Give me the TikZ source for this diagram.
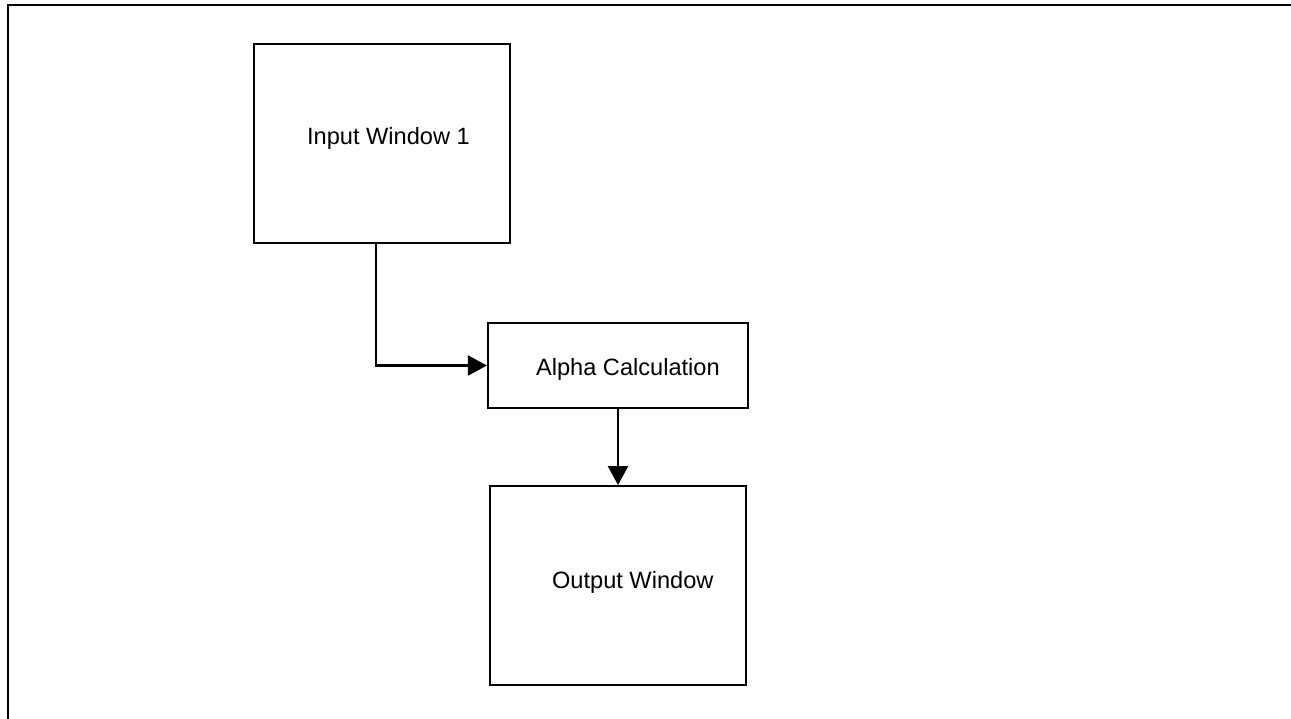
\documentclass[tikz,border=0pt]{standalone}
\usepackage{fontspec}
\setmainfont{Liberation Sans}
\usetikzlibrary{arrows.meta,positioning}
\definecolor{ink}{HTML}{000000}
\tikzset{
  win/.style={draw=ink,line width=2.2pt,minimum width=256pt,
    minimum height=199pt,inner sep=0pt},
  calcbox/.style={draw=ink,line width=2.2pt,minimum width=260pt,
    minimum height=85pt,inner sep=0pt},
  lbl/.style={font=\fontsize{23.6}{28}\selectfont,text=ink,
    anchor=base west,inner sep=0pt},
  arrow/.style={-{Triangle[length=19pt,width=20pt]},line width=2.2pt,draw=ink},
  frame/.style={draw=ink,line width=2pt}
}
\begin{document}
\begin{tikzpicture}[x=1pt,y=-1pt]
\useasboundingbox (0,0) rectangle (1291,719);
\draw[frame] (1291,5) -- (7.5,5) -- (7.5,719);

\node[win] (inwin) at (382,143.5) {};
\node[calcbox] (alpha) at (618,365.5) {};
\node[win,below=76pt of alpha] (outwin) {};

\node[lbl] (inlbl) at ([xshift=54pt,yshift=-1.5pt]inwin.west) {Input Window 1};
\node[lbl] (alphalbl) at ([xshift=49pt,yshift=-9.5pt]alpha.west) {Alpha Calculation};
\node[lbl] (outlbl) at ([xshift=63pt,yshift=-2.5pt]outwin.west) {Output Window};

\draw[arrow] ([xshift=-6pt]inwin.south) |- (alpha.west);
\draw[arrow] (alpha.south) -- (alpha.south |- outwin.north);
\end{tikzpicture}
\end{document}
